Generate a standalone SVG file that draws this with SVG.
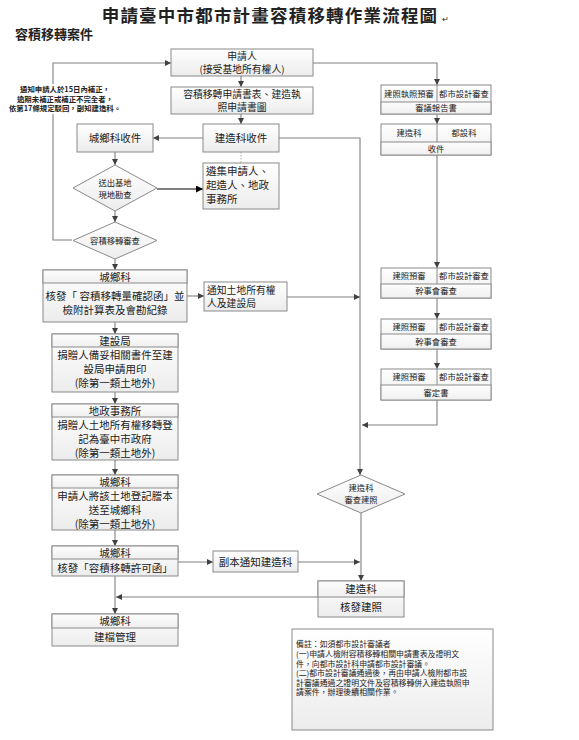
<svg xmlns="http://www.w3.org/2000/svg" width="579" height="740" viewBox="0 0 579 740">
<style>
.t{font-family:"Noto Sans CJK TC","Noto Sans CJK SC",sans-serif;fill:#222}
.b{fill:url(#g);stroke:#8a8a8a;stroke-width:1}
.h{fill:url(#gh);stroke:#8a8a8a;stroke-width:1}
.c{fill:none;stroke:#808080;stroke-width:1.1}
.ca{fill:none;stroke:#808080;stroke-width:1.1;marker-end:url(#a)}
.m{font-size:10.5px}
.m2{font-size:9.8px}
.sm{font-size:8.3px}
</style>
<defs>
<linearGradient id="g" x1="0" y1="0" x2="0" y2="1"><stop offset="0" stop-color="#ffffff"/><stop offset="1" stop-color="#ececec"/></linearGradient>
<linearGradient id="gh" x1="0" y1="0" x2="0" y2="1"><stop offset="0" stop-color="#fdfdfd"/><stop offset="1" stop-color="#f0f0f0"/></linearGradient>
<marker id="a" markerWidth="6" markerHeight="6" refX="6" refY="3" orient="auto" markerUnits="userSpaceOnUse"><path d="M0,0 L6,3 L0,6 z" fill="#404040"/></marker>
<marker id="ak" markerWidth="7" markerHeight="7" refX="7" refY="3.5" orient="auto" markerUnits="userSpaceOnUse"><path d="M0,0 L7,3.5 L0,7 z" fill="#000"/></marker>
</defs>
<rect width="579" height="740" fill="#fff"/>
<text class="t" x="270" y="22" text-anchor="middle" font-size="17.5" font-weight="bold" letter-spacing="1.2" fill="#000">申請臺中市都市計畫容積移轉作業流程圖</text>
<text class="t" x="442" y="22" font-size="8" fill="#999">↵</text>
<text class="t" x="15" y="39" font-size="13" font-weight="bold">容積移轉案件</text>

<g id="connectors">
<path class="ca" d="M241,76 V87"/>
<path class="ca" d="M241,114 V124"/>
<path class="ca" d="M203,138 H153"/>
<path class="ca" d="M279,138 H360 V475"/>
<path d="M241,152 V163" stroke="#b0b0b0" stroke-width="1" stroke-dasharray="1.5,1.5" fill="none"/>
<path class="ca" d="M115,152 V165"/>
<path d="M157,189 H203" fill="none" stroke="#000" stroke-width="1.2" marker-end="url(#ak)"/>
<path class="ca" d="M115,211 V222"/>
<path class="ca" d="M72,240 H53 V63 H171"/>
<path class="ca" d="M115,259 V270"/>
<path class="ca" d="M187,296 H204"/>
<path class="ca" d="M287,297 H360"/>
<path class="ca" d="M115,322 V334"/>
<path class="ca" d="M115,392 V404"/>
<path class="ca" d="M115,460 V475"/>
<path class="ca" d="M115,530 V546"/>
<path class="ca" d="M178,562 H213"/>
<path class="ca" d="M298,562 H360"/>
<path class="ca" d="M115,576 V614"/>
<path class="ca" d="M318,597 H116"/>
<path class="ca" d="M361,513 V581"/>
<path class="ca" d="M313,63 H437 V85"/>
<path class="ca" d="M437,114 V124"/>
<path class="ca" d="M437,155 V268"/>
<path class="ca" d="M437,298 V319"/>
<path class="ca" d="M437,349 V369"/>
<path class="ca" d="M437,400 V425 H362"/>
</g>

<g id="note-left">
<rect x="8" y="84" width="116" height="30" fill="#fff"/>
<text class="t" font-size="7.4" text-anchor="middle" font-weight="bold"><tspan x="65" y="92">通知申請人於15日內補正，</tspan><tspan x="65" y="101.5">逾期未補正或補正不完全者，</tspan><tspan x="65" y="111">依第17條規定駁回，副知建造科。</tspan></text>
</g>

<g id="n-applicant">
<rect class="b" x="171" y="49" width="142" height="27"/>
<text class="t m2" text-anchor="middle"><tspan x="242" y="60">申請人</tspan><tspan x="242" y="73">(接受基地所有權人)</tspan></text>
</g>
<g id="n-forms">
<rect class="b" x="171" y="87" width="142" height="27"/>
<text class="t m2" text-anchor="middle"><tspan x="242" y="98">容積移轉申請書表、建造執</tspan><tspan x="242" y="111">照申請書圖</tspan></text>
</g>
<g id="n-build-recv">
<rect class="b" x="203" y="124" width="76" height="28"/>
<text class="t m" x="241" y="142" text-anchor="middle">建造科收件</text>
</g>
<g id="n-urban-recv">
<rect class="b" x="77" y="124" width="76" height="28"/>
<text class="t m" x="115" y="142" text-anchor="middle">城鄉科收件</text>
</g>
<g id="n-gather">
<rect class="b" x="203" y="163" width="76" height="46"/>
<text class="t m"><tspan x="206" y="175">遴集申請人、</tspan><tspan x="206" y="189">起造人、地政</tspan><tspan x="206" y="203">事務所</tspan></text>
</g>
<g id="n-site">
<path class="b" d="M115,165 L157,188 L115,211 L73,188 z"/>
<text class="t" font-size="8.3" text-anchor="middle"><tspan x="115" y="186">送出基地</tspan><tspan x="115" y="198">現地勘查</tspan></text>
</g>
<g id="n-review">
<path class="b" d="M115,222 L157,240.5 L115,259 L73,240.5 z"/>
<text class="t" font-size="8.3" x="115" y="243.5" text-anchor="middle">容積移轉審查</text>
</g>
<g id="n-confirm">
<rect class="b" x="43" y="270" width="144" height="52"/>
<rect class="h" x="43" y="270" width="144" height="13"/>
<text class="t m" x="115" y="280.5" text-anchor="middle">城鄉科</text>
<text class="t m" text-anchor="middle"><tspan x="115" y="300">核發「 容積移轉量確認函」並</tspan><tspan x="115" y="314">檢附計算表及會勘紀錄</tspan></text>
</g>
<g id="n-notify">
<rect class="b" x="204" y="282" width="83" height="29"/>
<text class="t m2"><tspan x="207" y="294">通知土地所有權</tspan><tspan x="207" y="307">人及建設局</tspan></text>
</g>
<g id="n-construction-bureau">
<rect class="b" x="52" y="334" width="126" height="58"/>
<rect class="h" x="52" y="334" width="126" height="13"/>
<text class="t m" x="115" y="344.5" text-anchor="middle">建設局</text>
<text class="t m" text-anchor="middle"><tspan x="115" y="359">捐贈人備妥相關書件至建</tspan><tspan x="115" y="373">設局申請用印</tspan><tspan x="115" y="387">(除第一類土地外)</tspan></text>
</g>
<g id="n-land-office">
<rect class="b" x="52" y="404" width="126" height="56"/>
<rect class="h" x="52" y="404" width="126" height="13"/>
<text class="t m" x="115" y="414.5" text-anchor="middle">地政事務所</text>
<text class="t m" text-anchor="middle"><tspan x="115" y="429">捐贈人土地所有權移轉登</tspan><tspan x="115" y="443">記為臺中市政府</tspan><tspan x="115" y="457">(除第一類土地外)</tspan></text>
</g>
<g id="n-transcript">
<rect class="b" x="52" y="475" width="126" height="55"/>
<rect class="h" x="52" y="475" width="126" height="13"/>
<text class="t m" x="115" y="485.5" text-anchor="middle">城鄉科</text>
<text class="t m" text-anchor="middle"><tspan x="115" y="500">申請人將該土地登記謄本</tspan><tspan x="115" y="514">送至城鄉科</tspan><tspan x="115" y="528">(除第一類土地外)</tspan></text>
</g>
<g id="n-permit">
<rect class="b" x="52" y="546" width="126" height="30"/>
<rect class="h" x="52" y="546" width="126" height="13"/>
<text class="t m" x="115" y="556.5" text-anchor="middle">城鄉科</text>
<text class="t m" x="115" y="572" text-anchor="middle">核發「容積移轉許可函」</text>
</g>
<g id="n-copy">
<rect class="b" x="213" y="551" width="85" height="21"/>
<text class="t m" x="255.5" y="565.5" text-anchor="middle">副本通知建造科</text>
</g>
<g id="n-archive">
<rect class="b" x="52" y="614" width="126" height="32"/>
<rect class="h" x="52" y="614" width="126" height="14"/>
<text class="t m" x="115" y="625" text-anchor="middle">城鄉科</text>
<text class="t m" x="115" y="641" text-anchor="middle">建檔管理</text>
</g>
<g id="n-build-review">
<path class="b" d="M361,475 L405,494 L361,513 L317,494 z"/>
<text class="t" font-size="8.3" text-anchor="middle"><tspan x="361" y="491">建造科</tspan><tspan x="361" y="503">審查建照</tspan></text>
</g>
<g id="n-issue">
<rect class="b" x="318" y="581" width="86" height="36"/>
<rect class="h" x="318" y="581" width="86" height="16"/>
<text class="t m" x="361" y="593" text-anchor="middle">建造科</text>
<text class="t m" x="361" y="611" text-anchor="middle">核發建照</text>
</g>
<g id="n-r1">
<rect class="b" x="381" y="85" width="110" height="29"/>
<rect class="h" x="381" y="102" width="110" height="12"/>
<line x1="437" y1="85" x2="437" y2="102" stroke="#8a8a8a"/>
<text class="t sm" x="409" y="97" text-anchor="middle">建照執照預審</text>
<text class="t sm" x="464" y="97" text-anchor="middle">都市設計審查</text>
<text class="t sm" x="436" y="111" text-anchor="middle">審議報告書</text>
</g>
<g id="n-r2">
<rect class="b" x="381" y="124" width="110" height="31"/>
<rect class="h" x="381" y="142" width="110" height="13"/>
<line x1="437" y1="124" x2="437" y2="142" stroke="#8a8a8a"/>
<text class="t sm" x="409" y="136" text-anchor="middle">建造科</text>
<text class="t sm" x="464" y="136" text-anchor="middle">都設科</text>
<text class="t sm" x="436" y="151.5" text-anchor="middle">收件</text>
</g>
<g id="n-r3">
<rect class="b" x="381" y="268" width="110" height="30"/>
<rect class="h" x="381" y="284" width="110" height="14"/>
<line x1="437" y1="268" x2="437" y2="284" stroke="#8a8a8a"/>
<text class="t sm" x="409" y="279" text-anchor="middle">建照預審</text>
<text class="t sm" x="464" y="279" text-anchor="middle">都市設計審查</text>
<text class="t sm" x="436" y="294" text-anchor="middle">幹事會審查</text>
</g>
<g id="n-r4">
<rect class="b" x="381" y="319" width="110" height="30"/>
<rect class="h" x="381" y="334" width="110" height="15"/>
<line x1="437" y1="319" x2="437" y2="334" stroke="#8a8a8a"/>
<text class="t sm" x="409" y="330" text-anchor="middle">建照預審</text>
<text class="t sm" x="464" y="330" text-anchor="middle">都市設計審查</text>
<text class="t sm" x="436" y="345" text-anchor="middle">幹事會審查</text>
</g>
<g id="n-r5">
<rect class="b" x="381" y="369" width="110" height="31"/>
<rect class="h" x="381" y="385" width="110" height="15"/>
<line x1="437" y1="369" x2="437" y2="385" stroke="#8a8a8a"/>
<text class="t sm" x="409" y="380" text-anchor="middle">建照預審</text>
<text class="t sm" x="464" y="380" text-anchor="middle">都市設計審查</text>
<text class="t sm" x="436" y="396" text-anchor="middle">審定書</text>
</g>
<g id="n-remark">
<rect class="b" x="292" y="629" width="201" height="101"/>
<text class="t" font-size="7.9"><tspan x="296" y="647">備註：如須都市設計審議者</tspan><tspan x="296" y="657">(一)申請人檢附容積移轉相關申請書表及證明文</tspan><tspan x="296" y="666.5">件，向都市設計科申請都市設計審議。</tspan><tspan x="296" y="676">(二)都市設計審議通過後，再由申請人檢附都市設</tspan><tspan x="296" y="685.5">計審議通過之證明文件及容積移轉併入建造執照申</tspan><tspan x="296" y="695">請案件，辦理後續相關作業。</tspan></text>
</g>
</svg>
